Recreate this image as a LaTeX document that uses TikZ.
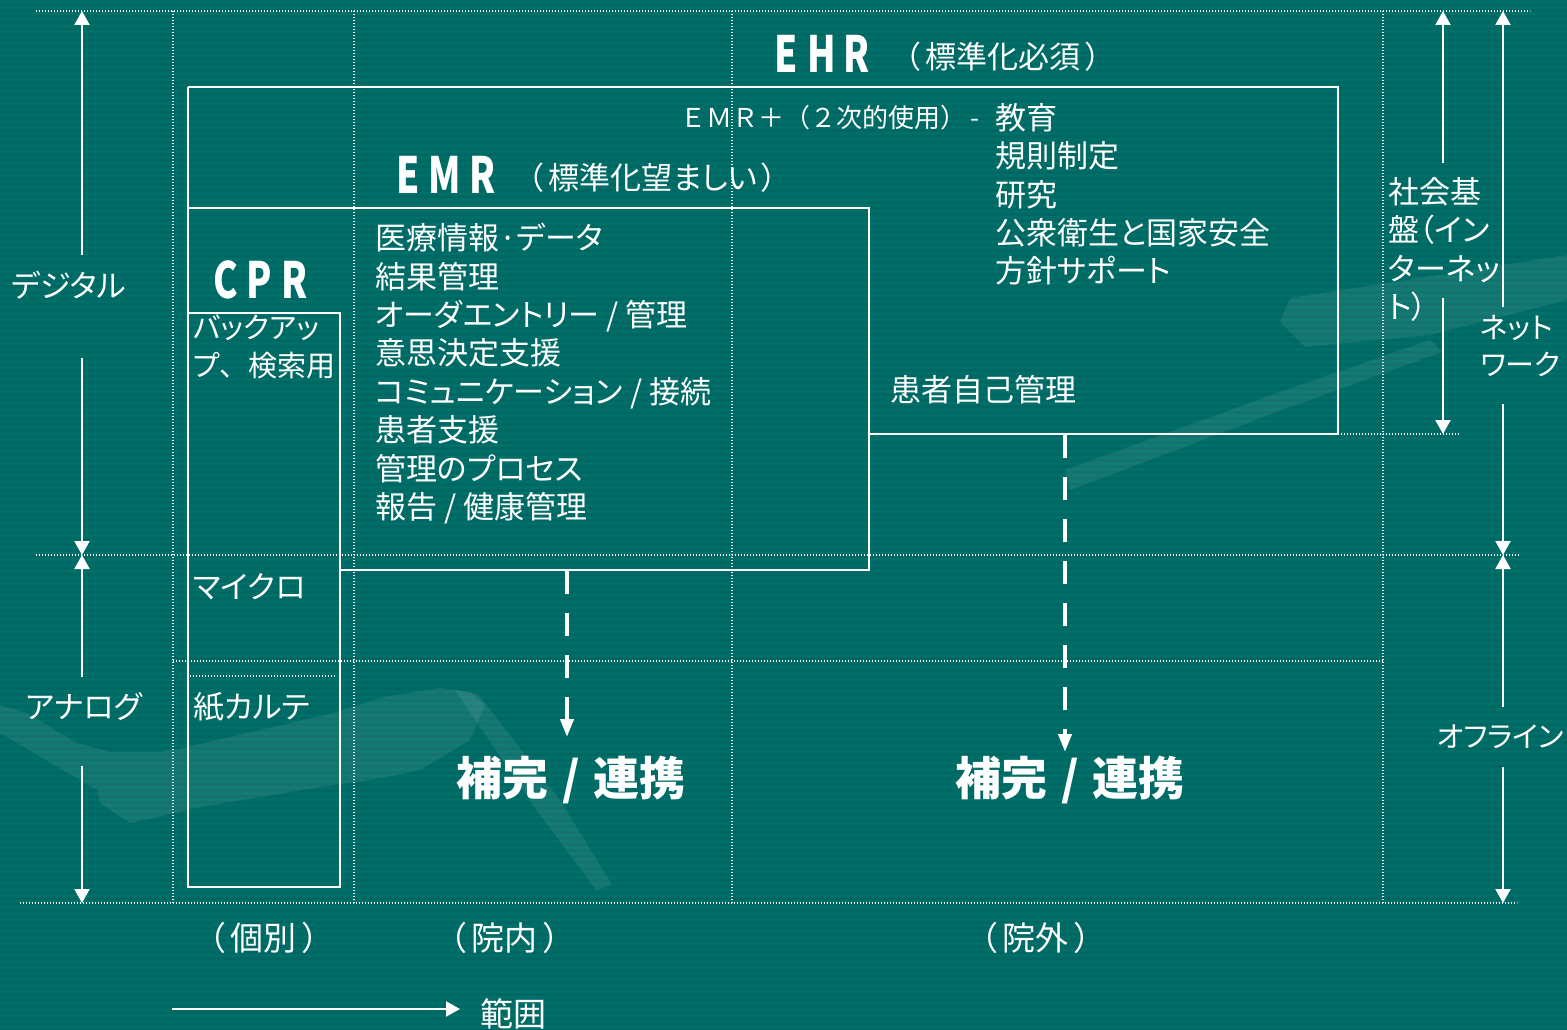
\documentclass[tikz,border=0pt]{standalone}
\usepackage{fontspec}
\newfontfamily\jp[RawFeature=+palt]{Noto Sans CJK JP}
\newfontfamily\jpmono{Noto Sans CJK JP}
\usetikzlibrary{arrows.meta}
\definecolor{bg}{RGB}{0,104,99}
\definecolor{stripe}{RGB}{0,111,105}
\begin{document}
\begin{tikzpicture}[x=1pt,y=-1pt,
  gridline/.style={white, line width=1.3pt, dash pattern=on 1.3pt off 1.7pt},
  boxline/.style={white, line width=2pt},
  dimarrow/.style={white, line width=2pt, -{Triangle[width=15pt,length=14pt]}},
  linkarrow/.style={white, line width=4pt, dash pattern=on 23pt off 19pt, -{Triangle[width=13pt,length=18pt]}},
  txt/.style={text=white, inner sep=0pt, font=\jp\fontsize{31}{38.4}\selectfont},
  small/.style={txt, font=\jpmono\fontsize{26}{38.4}\selectfont},
  side/.style={txt, font=\jp\fontsize{29}{37.5}\selectfont},
  biglatin/.style={text=white, inner sep=0pt, anchor=west, xscale=0.74, font=\jp\bfseries\fontsize{50}{50}\selectfont},
  linktxt/.style={text=white, inner sep=0pt, font=\jp\bfseries\fontsize{46}{46}\selectfont},
  scopetxt/.style={txt, font=\jp\fontsize{33}{33}\selectfont},
  deco/.style={white, opacity=0.08}
]
\useasboundingbox (0,0) rectangle (1567,1030);
% background
\fill[bg] (0,0) rectangle (1567,1030);
\foreach \s in {0,6,...,1026}{\fill[stripe] (0,\s) rectangle (1567,\s+3);}
\fill[deco] (0,705) -- (27,713) -- (77,743) -- (110,752) -- (160,752) -- (187,747) -- (333,713) -- (383,697) -- (440,688) -- (470,692) -- (485,705) -- (470,740) -- (420,770) -- (383,778) -- (333,785) -- (200,807) -- (153,818) -- (130,823) -- (100,803) -- (97,790) -- (0,733) -- cycle;
\fill[deco] (455,690) -- (478,694) -- (560,800) -- (612,885) -- (596,890) -- (538,812) -- cycle;
\fill[deco] (1290,298) -- (1567,255) -- (1567,300) -- (1430,335) -- (1305,347) -- (1280,322) -- cycle;
\fill[deco] (1065,470) -- (1280,392) -- (1430,340) -- (1442,352) -- (1290,407) -- (1070,490) -- cycle;

% grid coordinates
\coordinate (gT1) at (36,11);   \coordinate (gT2) at (1530,11);
\coordinate (gM1) at (36,555);  \coordinate (gM2) at (1520,555);
\coordinate (gA1) at (173,661); \coordinate (gA2) at (1383,661);
\coordinate (gB1) at (20,903);  \coordinate (gB2) at (1517,903);
\coordinate (gC1) at (190,676); \coordinate (gC2) at (337,676);
\coordinate (gN1) at (1338,434); \coordinate (gN2) at (1460,434);
\coordinate (v1t) at (173,11);  \coordinate (v1b) at (173,903);
\coordinate (v2t) at (354,11);  \coordinate (v2b) at (354,903);
\coordinate (v3t) at (732,11);  \coordinate (v3b) at (732,903);
\coordinate (v4t) at (1383,11); \coordinate (v4b) at (1383,903);
\draw[gridline] (gT1) -- (gT2);
\draw[gridline] (gM1) -- (gM2);
\draw[gridline] (gA1) -- (gA2);
\draw[gridline] (gB1) -- (gB2);
\draw[gridline] (gC1) -- (gC2);
\draw[gridline] (gN1) -- (gN2);
\draw[gridline] (v1t) -- (v1b);
\draw[gridline] (v2t) -- (v2b);
\draw[gridline] (v3t) -- (v3b);
\draw[gridline] (v4t) -- (v4b);

% boxes
\coordinate (ehrA) at (188,87);  \coordinate (ehrB) at (1338,87);
\coordinate (ehrC) at (1338,434); \coordinate (ehrD) at (869,434);
\coordinate (emrA) at (188,208); \coordinate (emrB) at (869,208);
\coordinate (emrC) at (869,570); \coordinate (emrD) at (340,570);
\coordinate (leftB) at (188,887);
\coordinate (cprA) at (188,313); \coordinate (cprC) at (340,887);
\draw[boxline] (ehrA) -- (ehrB) -- (ehrC) -- (ehrD);
\draw[boxline] (emrA) -- (emrB) -- (emrC) -- (emrD);
\draw[boxline] (ehrA) -- (leftB);
\draw[boxline] (cprA) rectangle (cprC);

% dimension arrows
\coordinate (dU) at (82,255);  \coordinate (dTop) at (82,11);
\coordinate (dL) at (82,358);  \coordinate (dMid) at (82,555);
\coordinate (aU) at (82,677);  \coordinate (aL) at (82,766);
\coordinate (aBot) at (82,903);
\draw[dimarrow] (dU) -- (dTop);
\draw[dimarrow] (dL) -- (dMid);
\draw[dimarrow] (aU) -- (dMid);
\draw[dimarrow] (aL) -- (aBot);
\coordinate (sU) at (1443,163); \coordinate (sTop) at (1443,11);
\coordinate (sL) at (1443,298); \coordinate (sBot) at (1443,434);
\draw[dimarrow] (sU) -- (sTop);
\draw[dimarrow] (sL) -- (sBot);
\coordinate (nU) at (1503,307); \coordinate (nTop) at (1503,11);
\coordinate (nL) at (1503,404); \coordinate (nMid) at (1503,555);
\coordinate (oU) at (1503,707); \coordinate (oL) at (1503,767);
\coordinate (oBot) at (1503,903);
\draw[dimarrow] (nU) -- (nTop);
\draw[dimarrow] (nL) -- (nMid);
\draw[dimarrow] (oU) -- (nMid);
\draw[dimarrow] (oL) -- (oBot);
\coordinate (r1) at (172,1009); \coordinate (r2) at (460,1009);
\draw[dimarrow] (r1) -- (r2);

% link arrows
\coordinate (lk1s) at (567,571); \coordinate (lk1e) at (567,737);
\coordinate (lk2s) at (1065,435); \coordinate (lk2e) at (1065,752);
\draw[linkarrow] (lk1s) -- (lk1e);
\draw[linkarrow] (lk2s) -- (lk2e);

% texts
\node[biglatin] (ehr) at (774,54) {E\hspace{14pt}H\hspace{10pt}R};
\node[txt, anchor=west] (ehrsub) at (905,57) {（\,標準化必須\,）};
\node[small, anchor=west] (emrplus) at (680,118) {ＥＭＲ＋（２次的使用）\,-};
\node[txt, anchor=north west, align=left] (uses) at (995,103) {教育\\規則制定\\研究\\公衆衛生と国家安全\\方針サポート};
\node[biglatin] (emr) at (396,175) {E\hspace{12pt}M\hspace{12pt}R};
\node[txt, anchor=west] (emrsub) at (528,178) {（\,標準化望ましい\,）};
\node[biglatin] (cpr) at (213,280) {C\hspace{12pt}P\hspace{12pt}R};
\node[side, anchor=north west, align=left] (cprsub) at (193,315) {バックアッ\\プ{\jpmono 、}検索用};
\node[txt, anchor=north west, align=left] (emrlist) at (375,223) {医療情報·データ\\結果管理\\オーダエントリー\ /\ 管理\\意思決定支援\\コミュニケーション\ /\ 接続\\患者支援\\管理のプロセス\\報告\ /\ 健康管理};
\node[txt, anchor=west] (self) at (890,390) {患者自己管理};
\node[txt, anchor=west] (micro) at (193,587) {マイクロ};
\node[txt, anchor=west] (paper) at (193,707) {紙カルテ};
\node[txt] (digital) at (69,285) {デジタル};
\node[txt] (analog) at (84,707) {アナログ};
\node[txt, anchor=north west, align=left] (infra) at (1388,177) {社会基\\盤（イン\\ターネッ\\ト）};
\node[side, anchor=north west, align=left] (network) at (1480,315) {ネット\\ワーク};
\node[side, anchor=east] (offline) at (1564,737) {オフライン};
\node[linktxt] (link1) at (571,780) {補完\hspace{14pt}/\hspace{14pt}連携};
\node[linktxt] (link2) at (1070,780) {補完\hspace{14pt}/\hspace{14pt}連携};
\node[scopetxt] (indiv) at (264,938) {（\,個別\,）};
\node[scopetxt] (inhosp) at (505,938) {（\,院内\,）};
\node[scopetxt] (outhosp) at (1036,938) {（\,院外\,）};
\node[scopetxt, anchor=west] (range) at (480,1014) {範囲};
\end{tikzpicture}
\end{document}
